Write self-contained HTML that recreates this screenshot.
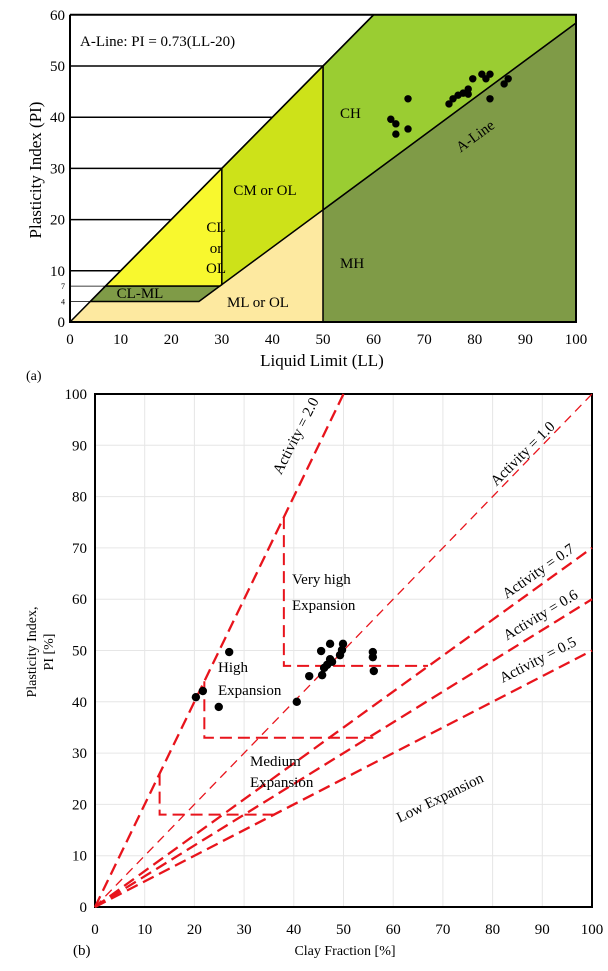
<!DOCTYPE html>
<html><head><meta charset="utf-8"><style>
body{margin:0;background:#fff}
svg{display:block;font-family:"Liberation Serif",serif}
</style></head><body>
<svg width="608" height="971" viewBox="0 0 608 971">
<g id="top"></g>
<g id="bot"></g>
</svg>
<script>
// ---------- Chart (a) data ----------
const llValues=[63.4,64.4,64.4,66.8,66.8,74.9,75.7,76.7,77.7,78.7,78.7,79.6,81.4,82.2,83,83,85.8,86.6];
const piValues=[39.6,38.7,36.7,43.6,37.7,42.6,43.6,44.3,44.7,45.5,44.5,47.5,48.4,47.5,48.4,43.6,46.5,47.5];
const llTicks=[0,10,20,30,40,50,60,70,80,90,100];
const piTicks=[0,10,20,30,40,50,60];
// ---------- Chart (b) data ----------
const clayValues=[27.0,21.7,20.3,24.9,40.6,43.1,45.5,47.3,49.9,49.3,49.7,45.7,46.1,46.7,47.7,47.3,55.9,55.9,56.1];
const piBValues=[49.7,42.1,40.9,39.0,40.0,45.0,49.9,51.3,51.3,49.1,50.1,45.2,46.6,47.2,47.8,48.3,49.7,48.7,46.0];
const activities=[2.0,1.0,0.7,0.6,0.5];
const bTicks=[0,10,20,30,40,50,60,70,80,90,100];

const NS="http://www.w3.org/2000/svg";
function mk(parent,tag,attrs,text){const e=document.createElementNS(NS,tag);for(const k in attrs)e.setAttribute(k,attrs[k]);if(text!==undefined)e.textContent=text;parent.appendChild(e);return e;}

// ===== Chart (a) =====
const T=document.getElementById('top');
const ax=v=>70+v*5.06, ay=v=>322-v*5.12;
const aLine=ll=>0.73*(ll-20);
const pts=a=>a.map(p=>ax(p[0])+','+ay(p[1])).join(' ');
let e;
e=mk(T,'polygon',{points:pts([[0,0],[4,4],[20+4/0.73,4],[50,aLine(50)],[50,0]]),fill:'#fde9a0',stroke:'#000','stroke-width':1});

e=mk(T,'polygon',{points:pts([[50,0],[50,aLine(50)],[100,aLine(100)],[100,0]]),fill:'#7f9b47',stroke:'#000','stroke-width':1.5});

e=mk(T,'polygon',{points:pts([[50,50],[60,60],[100,60],[100,aLine(100)],[50,aLine(50)]]),fill:'#9acd32',stroke:'#000','stroke-width':1.5});

e=mk(T,'polygon',{points:pts([[30,30],[50,50],[50,aLine(50)],[30,aLine(30)]]),fill:'#cde219',stroke:'#000','stroke-width':1.5});

e=mk(T,'polygon',{points:pts([[7,7],[20+7/0.73,7],[30,aLine(30)],[30,30]]),fill:'#f8f82e',stroke:'#000','stroke-width':1.5});

e=mk(T,'polygon',{points:pts([[4,4],[20+4/0.73,4],[20+7/0.73,7],[7,7]]),fill:'#7f9b47',stroke:'#000','stroke-width':1.5});

[10,20,30,40,50].forEach(v=>{const l=mk(T,'line',{x1:ax(0),x2:ax(v),y1:ay(v),y2:ay(v),stroke:'#000','stroke-width':1.5});
});
[4,7].forEach(v=>{const l=mk(T,'line',{x1:ax(0),x2:ax(v),y1:ay(v),y2:ay(v),stroke:'#000','stroke-width':0.8});
});
e=mk(T,'line',{x1:ax(0),y1:ay(0),x2:ax(60),y2:ay(60),stroke:'#000','stroke-width':1.5});

e=mk(T,'polyline',{points:pts([[0,60],[0,0],[100,0],[100,60],[0,60]]),fill:'none',stroke:'#000','stroke-width':2});

llTicks.forEach(v=>{const t=mk(T,'text',{x:ax(v),y:344,'font-size':15,'text-anchor':'middle'},v);
});
piTicks.forEach(v=>{const t=mk(T,'text',{x:ax(0)-5,y:ay(v)+5,'font-size':15,'text-anchor':'end'},v);
});
[4,7].forEach(v=>{const t=mk(T,'text',{x:ax(0)-5,y:ay(v)+3,'font-size':8,'text-anchor':'end'},v);
});
const zl=[['A-Line: PI = 0.73(LL-20)',80,46,'start'],['CH',340,118,'start'],['CL',216,232,'middle'],['or',216,253,'middle'],['OL',216,273,'middle'],['CM or OL',265,195,'middle'],['CL-ML',140,298,'middle'],['ML or OL',258,307,'middle'],['MH',340,268,'start']];
zl.forEach(z=>{const t=mk(T,'text',{x:z[1],y:z[2],'font-size':15,'text-anchor':z[3]},z[0]);
});
e=mk(T,'text',{x:0,y:0,'font-size':15,transform:'translate(478,140) rotate(-36)','text-anchor':'middle'},'A-Line');

e=mk(T,'text',{x:0,y:0,'font-size':17,transform:'translate(41,170) rotate(-90)','text-anchor':'middle'},'Plasticity Index (PI)');

e=mk(T,'text',{x:322,y:366,'font-size':17,'text-anchor':'middle'},'Liquid Limit (LL)');

e=mk(T,'text',{x:26,y:380,'font-size':14},'(a)');

llValues.forEach((v,i)=>{const c=mk(T,'circle',{cx:ax(v),cy:ay(piValues[i]),r:3.7,fill:'#000'});
});

// ===== Chart (b) =====
const B=document.getElementById('bot');
const bx=v=>95+v*4.97, by=v=>907-v*5.13;
bTicks.forEach(v=>{
 const g1=mk(B,'line',{x1:bx(v),x2:bx(v),y1:by(0),y2:by(100),stroke:'#e6e6e6','stroke-width':1});
 
 const g2=mk(B,'line',{x1:bx(0),x2:bx(100),y1:by(v),y2:by(v),stroke:'#e6e6e6','stroke-width':1});
 
 const t1=mk(B,'text',{x:bx(v),y:934,'font-size':15,'text-anchor':'middle'},v);
 
 const t2=mk(B,'text',{x:bx(0)-8,y:by(v)+5,'font-size':15,'text-anchor':'end'},v);
 
});
e=mk(B,'rect',{x:bx(0),y:by(100),width:bx(100)-bx(0),height:by(0)-by(100),fill:'none',stroke:'#000','stroke-width':2});

activities.forEach(a=>{const xe=Math.min(100,100/a);
 const l=mk(B,'line',{x1:bx(0),y1:by(0),x2:bx(xe),y2:by(xe*a),stroke:'#e8141c','stroke-width':a===1?1.3:2.3,'stroke-dasharray':a===1?'9,6':'12,6'});
 });
const bounds=[[[38,76],[38,47],[67,47]],[[22,44],[22,33],[56,33]],[[13,26],[13,18],[37,18]]];
bounds.forEach(b=>{const l=mk(B,'polyline',{points:b.map(p=>bx(p[0])+','+by(p[1])).join(' '),fill:'none',stroke:'#e8141c','stroke-width':2,'stroke-dasharray':'12,6'});
 });
const al=[['Activity = 2.0',300,438,-63],['Activity = 1.0',526,457,-45],['Activity = 0.7',541,575,-35],['Activity = 0.6',543,619,-31],['Activity = 0.5',540,664,-27]];
al.forEach(a=>{const t=mk(B,'text',{x:0,y:0,'font-size':15,'text-anchor':'middle',transform:`translate(${a[1]},${a[2]}) rotate(${a[3]})`},a[0]);
 });
const el=[['Very high',292,584],['Expansion',292,610],['High',218,672],['Expansion',218,695],['Medium',250,766],['Expansion',250,787]];
el.forEach(z=>{const t=mk(B,'text',{x:z[1],y:z[2],'font-size':15},z[0]);
 });
e=mk(B,'text',{x:0,y:0,'font-size':15,'text-anchor':'middle',transform:'translate(442,802) rotate(-26)'},'Low Expansion');

clayValues.forEach((v,i)=>{const c=mk(B,'circle',{cx:bx(v),cy:by(piBValues[i]),r:4.2,fill:'#000'});
 });
e=mk(B,'text',{x:0,y:0,'font-size':14,'text-anchor':'middle',transform:'translate(36,652) rotate(-90)'},'Plasticity Index,');

e=mk(B,'text',{x:0,y:0,'font-size':14,'text-anchor':'middle',transform:'translate(53,652) rotate(-90)'},'PI [%]');

e=mk(B,'text',{x:345,y:955,'font-size':14,'text-anchor':'middle'},'Clay Fraction [%]');

e=mk(B,'text',{x:73,y:955,'font-size':15},'(b)');

</script>
</body></html>
